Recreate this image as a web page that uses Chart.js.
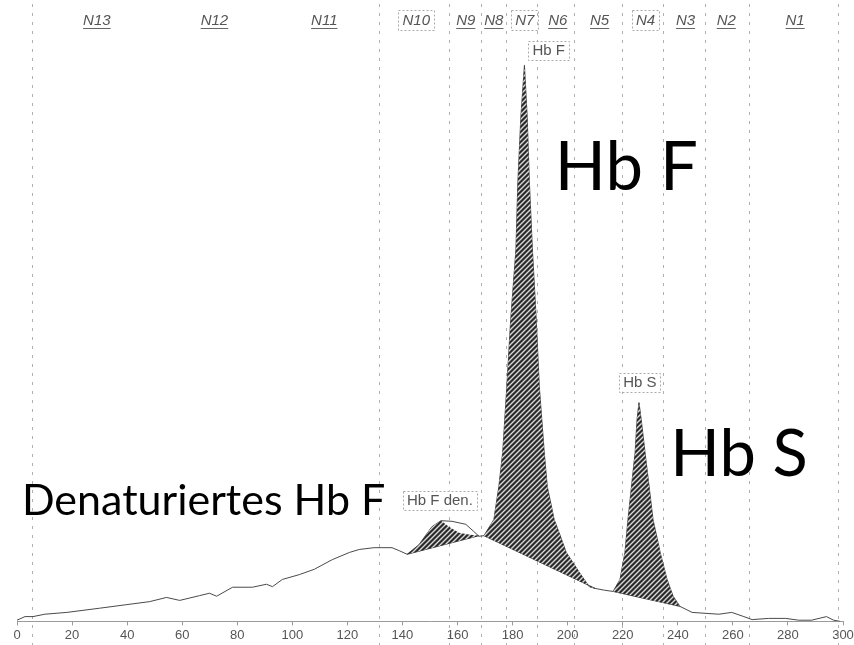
<!DOCTYPE html>
<html>
<head>
<meta charset="utf-8">
<script src="https://cdn.jsdelivr.net/npm/chart.js@4"></script>
<style>
  html, body { margin: 0; padding: 0; background: #fff; }
  #wrap { width: 854px; height: 645px; }
</style>
</head>
<body>
<div id="wrap"><canvas id="hplc"></canvas></div>
<script>
// Detector trace: [retention, signal]
const trace = [
  [0, 0.2], [2.9, 0.8], [5.8, 0.8], [10.1, 1.2], [18.1, 1.5], [30, 2.2], [39.9, 2.8],
  [48.2, 3.3], [54.3, 4.0], [59.1, 3.5], [66.3, 4.3], [69.9, 4.7], [72.5, 4.2],
  [78.3, 5.7], [85.5, 5.7], [90.6, 6.2], [92.8, 5.8], [96.4, 7.0], [102.5, 7.8],
  [108, 8.7], [114.5, 10.3], [120.7, 11.5], [124.3, 12.0], [129.7, 12.3], [136.2, 12.3],
  [138.8, 11.8], [141.7, 11.2], [146, 12.8], [150.7, 15.8], [154, 16.8], [158, 16.7],
  [163, 16.2], [165.9, 15.0], [167.8, 14.2], [169.6, 14.3], [173.2, 17], [175, 22.5],
  [176.4, 28.2], [177.9, 39.2], [179.3, 50.3], [181.2, 62], [181.9, 73.2], [183, 84.2],
  [184.3, 92.8], [185.3, 84.2], [186.1, 73.2], [187.2, 62], [188.6, 50.3], [189.7, 39.2],
  [191.5, 28.2], [192.6, 22.5], [195.1, 17], [196.9, 14.8], [199.5, 11.5], [204.2, 8.2],
  [207.8, 5.8], [210, 5.5], [213.4, 5.2], [216.5, 5.0], [219, 7.0], [220.8, 11.5],
  [221.9, 17], [224.5, 28.2], [225.2, 33.7], [225.9, 36.5], [226.7, 33.7], [228.1, 28.2],
  [231, 17], [233.6, 11.5], [236.1, 7.0], [238.3, 4.2], [240.8, 2.5], [245.2, 1.5],
  [254.9, 1.2], [259.6, 1.5], [264, 0.8], [267, 0.3], [273, 0.5], [279.2, 0.5],
  [283.9, 0.2], [288.6, 0.2], [294, 0.8], [296.6, 0.2], [299, 0]
];

// integrated (hatched) part of the denatured Hb F peak
const denPeak = [
  [141.7, 11.2], [146, 12.8], [150.7, 15.8], [154, 16.8], [156.9, 15.8],
  [160.5, 14.8], [164.1, 14.5], [167.8, 14.3]
];
const denBase = [[141.7, 11.2], [167.8, 14.3]];
const hbfBase = [[169.6, 14.3], [210, 5.5]];
const hbsBase = [[216.5, 5.0], [240.8, 2.5]];

const xTicks = [0, 20, 40, 60, 80, 100, 120, 140, 160, 180, 200, 220, 240, 260, 280, 300];

// zone windows N13..N1
const zoneBounds = [5.4, 131.5, 156.9, 168.5, 177.5, 188.8, 202.2, 219.9, 234.8, 250, 265.9, 298.2];
const zoneNames  = ['N13', 'N12', 'N11', 'N10', 'N9', 'N8', 'N7', 'N6', 'N5', 'N4', 'N3', 'N2', 'N1'];
const zoneCenters = [29, 71.7, 111.6, 145, 163, 173.2, 184.4, 196.4, 211.6, 228.3, 242.8, 257.6, 282.6];
const zoneBoxed  = ['N10', 'N7', 'N4'];

// peak tags and the big captions
const tagText = ['Hb F', 'Hb S', 'Hb F den.'];
const tagAt   = [[193.1, 95.3], [226.2, 40], [153.6, 20.3]];
const bigText = ['Hb F', 'Hb S', 'Denaturiertes Hb F'];
const bigAt   = [[195.3, 72], [237.3, 24.3], [1.8, 17.8]];

const toPts = arr => arr.map(p => ({ x: p[0], y: p[1] }));
const slice = (a, b) => toPts(trace.filter(p => p[0] >= a && p[0] <= b));

function hatch() {
  const c = document.createElement('canvas');
  c.width = 5; c.height = 5;
  const g = c.getContext('2d');
  g.fillStyle = '#2a2a2a';
  g.fillRect(0, 0, 5, 5);
  g.strokeStyle = '#d8d8d8';
  g.lineWidth = 1.4;
  g.beginPath();
  g.moveTo(0, 5); g.lineTo(5, 0);
  g.moveTo(-1, 1); g.lineTo(1, -1);
  g.moveTo(4, 6); g.lineTo(6, 4);
  g.stroke();
  return g.createPattern(c, 'repeat');
}
const pat = hatch();

const area = (data) => ({
  data, borderWidth: 0, pointRadius: 0, fill: '+1', backgroundColor: pat, tension: 0
});
const base = (data) => ({
  data, borderWidth: 1, borderColor: '#333', pointRadius: 0, fill: false
});

const overlay = {
  id: 'overlay',
  beforeDatasetsDraw(chart) {
    const { ctx, scales: { x } } = chart;
    ctx.save();
    ctx.strokeStyle = '#b0b0b0';
    ctx.lineWidth = 1;
    ctx.setLineDash([3, 6]);
    zoneBounds.forEach(v => {
      const px = Math.round(x.getPixelForValue(v)) + 0.5;
      ctx.beginPath();
      ctx.moveTo(px, 4);
      ctx.lineTo(px, 645);
      ctx.stroke();
    });
    ctx.restore();
  },
  afterDraw(chart) {
    const { ctx, chartArea, scales: { x, y } } = chart;
    ctx.save();
    // zone names
    ctx.font = 'italic 15px "Liberation Sans", Arial, sans-serif';
    ctx.textAlign = 'center';
    ctx.textBaseline = 'alphabetic';
    zoneNames.forEach((n, i) => {
      const cx = x.getPixelForValue(zoneCenters[i]);
      const by = chartArea.top + 3;
      ctx.fillStyle = '#555';
      ctx.fillText(n, cx, by);
      const w = ctx.measureText(n).width;
      if (zoneBoxed.includes(n)) {
        ctx.strokeStyle = '#aaa';
        ctx.setLineDash([2, 2]);
        ctx.strokeRect(Math.round(cx - w / 2 - 4) + 0.5, by - 14.5, Math.round(w + 8), 20);
        ctx.setLineDash([]);
      } else {
        ctx.strokeStyle = '#666';
        ctx.lineWidth = 1;
        ctx.beginPath();
        ctx.moveTo(cx - w / 2, by + 3.5);
        ctx.lineTo(cx + w / 2, by + 3.5);
        ctx.stroke();
      }
    });
    // boxed peak tags
    ctx.font = '15px "Liberation Sans", Arial, sans-serif';
    ctx.textBaseline = 'middle';
    tagText.forEach((t, i) => {
      const cx = x.getPixelForValue(tagAt[i][0]);
      const cy = y.getPixelForValue(tagAt[i][1]);
      const w = ctx.measureText(t).width;
      ctx.fillStyle = '#fff';
      ctx.fillRect(cx - w / 2 - 4, cy - 9, w + 8, 19);
      ctx.fillStyle = '#555';
      ctx.fillText(t, cx, cy + 1);
      ctx.strokeStyle = '#aaa';
      ctx.setLineDash([2, 2]);
      ctx.strokeRect(Math.round(cx - w / 2 - 4) + 0.5, Math.round(cy - 9) + 0.5, Math.round(w + 8), 19);
      ctx.setLineDash([]);
    });
    // big captions
    ctx.fillStyle = '#000';
    ctx.textAlign = 'left';
    ctx.textBaseline = 'alphabetic';
    const sizes = [67, 65, 43];
    bigText.forEach((t, i) => {
      ctx.font = sizes[i] + 'px Lato, "Open Sans", sans-serif';
      ctx.fillText(t, x.getPixelForValue(bigAt[i][0]), y.getPixelForValue(bigAt[i][1]));
    });
    ctx.restore();
  }
};

new Chart(document.getElementById('hplc'), {
  type: 'line',
  data: {
    datasets: [
      area(toPts(denPeak)), base(toPts(denBase)),
      area(slice(169.6, 210)), base(toPts(hbfBase)),
      area(slice(216.5, 240.8)), base(toPts(hbsBase)),
      { data: toPts(trace), borderColor: '#4a4a4a', borderWidth: 1, pointRadius: 0, fill: false, tension: 0 }
    ]
  },
  options: {
    responsive: true,
    maintainAspectRatio: false,
    animation: false,
    layout: { padding: { left: 17, right: 11, top: 22, bottom: 0 } },
    plugins: { legend: { display: false }, tooltip: { enabled: false } },
    scales: {
      x: {
        type: 'linear', min: 0, max: 300,
        afterBuildTicks: s => { s.ticks = xTicks.map(v => ({ value: v })); },
        afterFit: s => { s.paddingLeft = 0; s.paddingRight = 0; },
        border: { display: true, color: '#9a9a9a', dash: [4, 3] },
        grid: { drawOnChartArea: false, drawTicks: true, tickLength: 4, color: '#9a9a9a' },
        ticks: {
          autoSkip: false, maxRotation: 0, padding: 2,
          color: '#555', font: { family: '"Liberation Sans", Arial, sans-serif', size: 13 }
        }
      },
      y: { display: false, min: 0, max: 100 }
    }
  },
  plugins: [overlay]
});
</script>
</body>
</html>
